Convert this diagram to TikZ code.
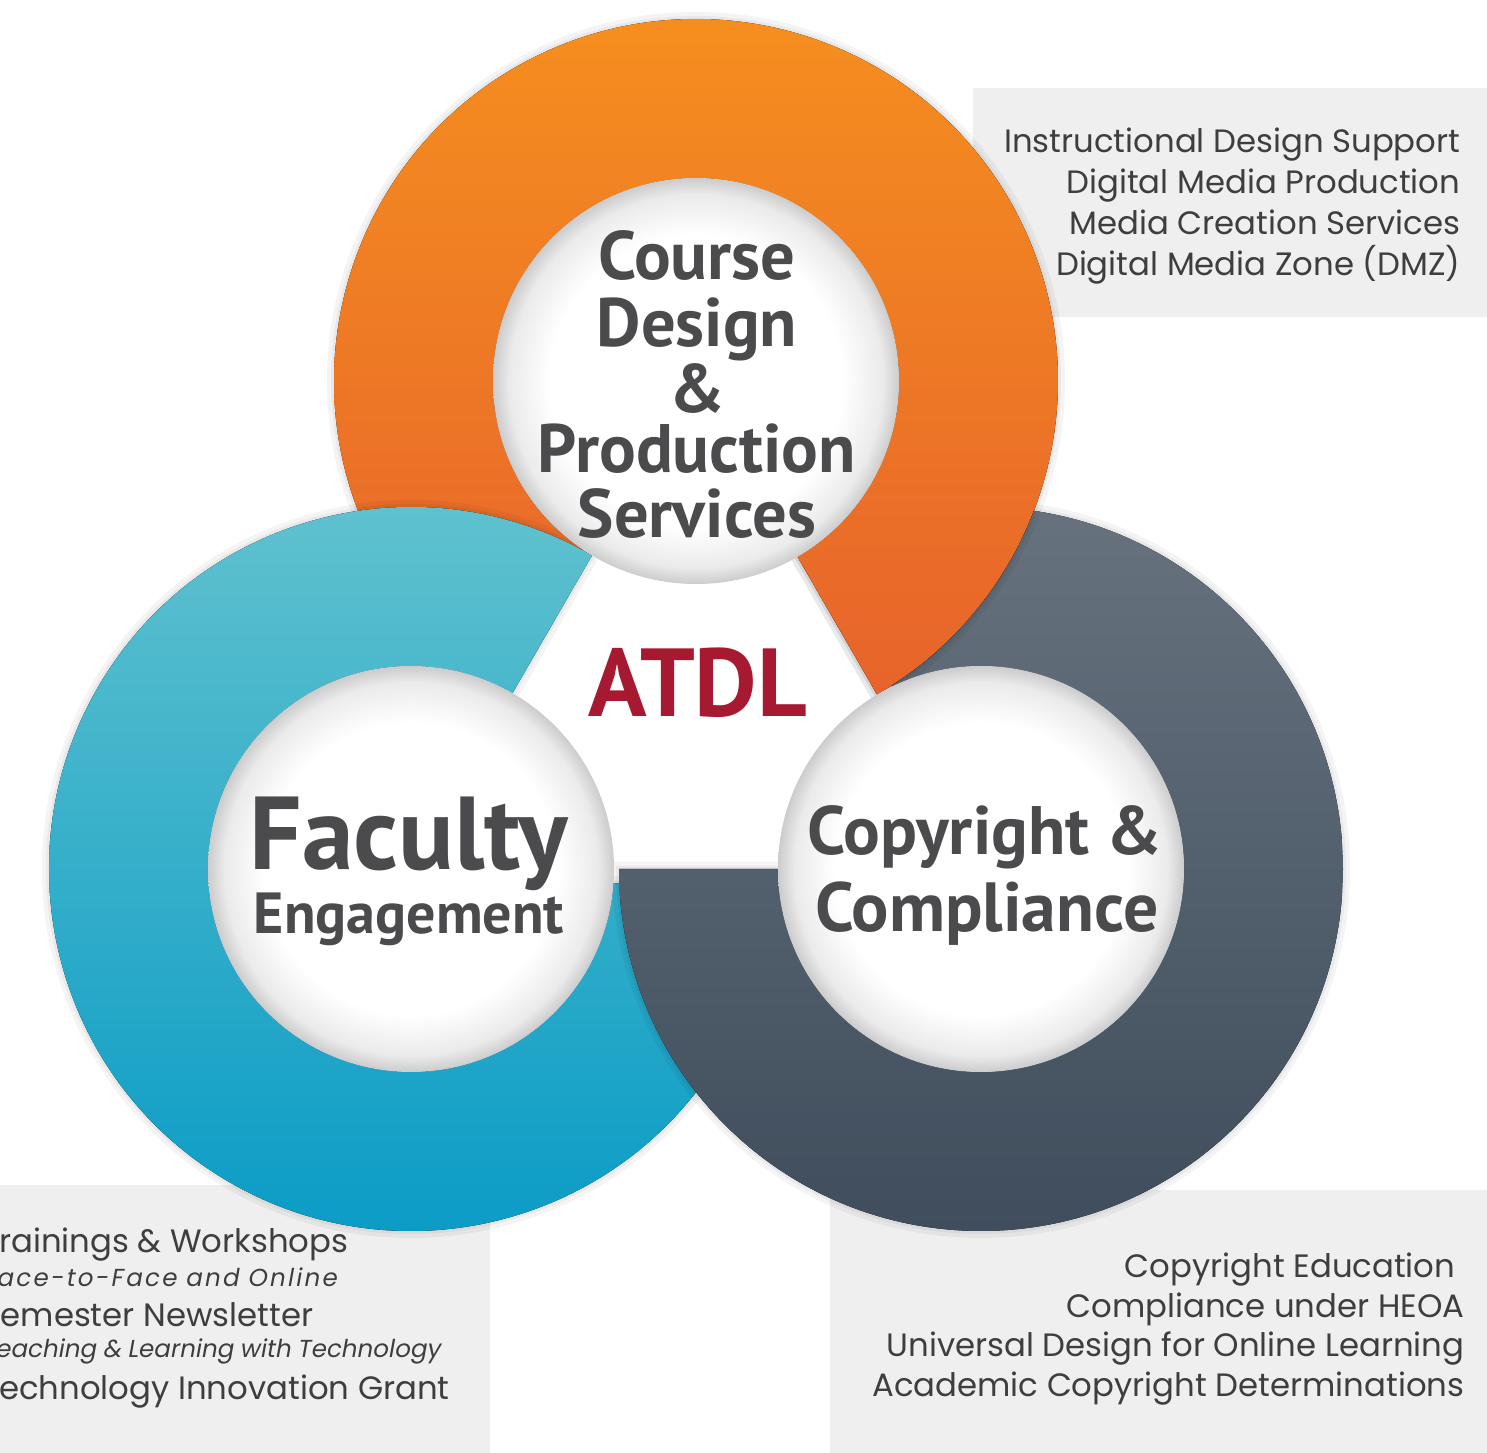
\documentclass[tikz,border=0pt]{standalone}
\usepackage{fontspec}
\setmainfont{Poppins}
\newfontfamily\boldsans{PT Sans}
\newfontfamily\descit[FakeSlant=0.18]{Poppins}
\newfontfamily\descitwide[FakeSlant=0.18, LetterSpace=9]{Poppins}

\definecolor{orangetop}{HTML}{F58E1F}
\definecolor{orangebot}{HTML}{E6602C}
\definecolor{tealtop}{HTML}{5FC1CE}
\definecolor{tealbot}{HTML}{0B9CC6}
\definecolor{slatetop}{HTML}{67727E}
\definecolor{slatebot}{HTML}{3F4D5C}
\definecolor{labelgrey}{HTML}{4B4B4D}
\definecolor{descgrey}{HTML}{3E3E3E}
\definecolor{atdlred}{HTML}{A71930}
\definecolor{boxgrey}{HTML}{EFEFEF}

\pgfdeclareradialshading{discshade}{\pgfpoint{0bp}{0bp}}{color(0bp)=(white); color(18bp)=(white); color(23bp)=(black!8); color(25bp)=(black!20); color(50bp)=(black!20)}

% ring sector: centre, from, to
\newcommand\sectorpath[3]{[shift={(#1)}] (#2:362) arc[start angle=#2, end angle=#3, radius=362] -- (#3:203) arc[start angle=#3, end angle=#2, radius=203] -- cycle}
\newcommand\ringhalo[3]{%
  \path[ringshadow, line width=1.4mm] \sectorpath{#1}{#2}{#3};
  \path[ringshadow, line width=0.6mm] \sectorpath{#1}{#2}{#3};}
\newcommand\ringfill[5]{%
  \begin{scope}
    \clip \sectorpath{#1}{#2}{#3};
    \fill[top color=#4, bottom color=#5] ([shift={(-362,-362)}]#1) rectangle ([shift={(362,362)}]#1);
  \end{scope}}

\tikzset{
  ringshadow/.style={draw=black, fill=black, opacity=.045, xshift=0.3mm, yshift=-0.6mm},
  disc/.style={circle, minimum size=40.6mm, inner sep=0pt, shading=discshade},
  mainlabel/.style={inner sep=0pt, text=labelgrey, anchor=base},
  desc/.style={inner sep=0pt, text=descgrey, font=\fontsize{9.2}{10}\selectfont},
  descsub/.style={inner sep=0pt, text=descgrey, font=\descit\fontsize{7}{8}\selectfont},
}

\begin{document}
\begin{tikzpicture}[x=0.1mm, y=0.1mm]
  \useasboundingbox (0,0) rectangle (1487,1453);
  \clip (0,0) rectangle (1487,1453);
  \fill[white] (0,0) rectangle (1487,1453);

  % grey panels behind the rings
  \fill[boxgrey] (973,1136) rectangle (1487,1365);
  \fill[boxgrey] (0,0) rectangle (490,268);
  \fill[boxgrey] (830,0) rectangle (1487,263);

  \coordinate (course) at (696,1072);
  \coordinate (faculty) at (411,584);
  \coordinate (copyright) at (981,584);

  % orange, then teal on its end, then slate on the teal end
  \ringhalo{course}{-60}{236}
  \ringfill{course}{-60}{236}{orangetop}{orangebot}
  \ringhalo{faculty}{60}{356}
  \ringfill{faculty}{60}{356}{tealtop}{tealbot}
  % the start of the orange ring stays on top of the slate one
  \begin{scope}[even odd rule]
    \clip (0,0) rectangle (1487,1453) \sectorpath{course}{-60}{90};
    \ringhalo{copyright}{180}{476}
    \ringfill{copyright}{180}{476}{slatetop}{slatebot}
    \begin{scope}
      \clip (copyright) circle[radius=362];
      \ringhalo{course}{-60}{90}
    \end{scope}
  \end{scope}

  \node[disc] (coursedisc) at (course) {};
  \node[disc] (facultydisc) at (faculty) {};
  \node[disc] (copyrightdisc) at (copyright) {};

  % circle titles
  \begin{scope}[font=\boldsans\bfseries\fontsize{19.5}{20}\selectfont]
    \node[mainlabel] (course1) at (697,1173) {Course};
    \node[mainlabel] (course2) at (697,1106) {Design};
    \node[mainlabel] (course3) at (697,1040) {\&};
    \node[mainlabel] (course4) at (697,980) {Production};
    \node[mainlabel] (course5) at (697,915) {Services};
  \end{scope}
  \node[mainlabel, font=\boldsans\bfseries\fontsize{29.5}{28}\selectfont] (faculty1) at (409,583) {Faculty};
  \node[mainlabel, font=\boldsans\bfseries\fontsize{16.5}{16}\selectfont] (faculty2) at (409,519) {Engagement};
  \node[mainlabel, font=\boldsans\bfseries\fontsize{19.5}{19}\selectfont] (copyright1) at (985,598) {Copyright \&};
  \node[mainlabel, font=\boldsans\bfseries\fontsize{19.8}{19}\selectfont] (copyright2) at (987,521) {Compliance};
  \node[mainlabel, text=atdlred, font=\boldsans\bfseries\fontsize{27.5}{26}\selectfont] (atdl) at (698,736) {ATDL};

  % service lists
  \node[desc, anchor=base east] (cd1) at (1461,1300) {Instructional Design Support};
  \node[desc, anchor=base east] (cd2) at (1461,1259) {Digital Media Production};
  \node[desc, anchor=base east] (cd3) at (1461,1218) {Media Creation Services};
  \node[desc, anchor=base east] (cd4) at (1461,1177) {Digital Media Zone (DMZ)};

  \node[desc, anchor=base west] (fe1) at (-19,200) {Trainings \& Workshops};
  \node[descsub, anchor=base west, font=\descitwide\fontsize{7}{8}\selectfont] (fe2) at (-19,166) {Face-to-Face and Online};
  \node[desc, anchor=base west] (fe3) at (-19,126) {Semester Newsletter};
  \node[descsub, anchor=base west] (fe4) at (-19,95) {Teaching \& Learning with Technology};
  \node[desc, anchor=base west] (fe5) at (-19,53) {Technology Innovation Grant};

  \node[desc, anchor=base east] (cc1) at (1456,175) {Copyright Education};
  \node[desc, anchor=base east] (cc2) at (1465,135) {Compliance under HEOA};
  \node[desc, anchor=base east] (cc3) at (1465,96) {Universal Design for Online Learning};
  \node[desc, anchor=base east] (cc4) at (1465,56) {Academic Copyright Determinations};
\end{tikzpicture}
\end{document}
